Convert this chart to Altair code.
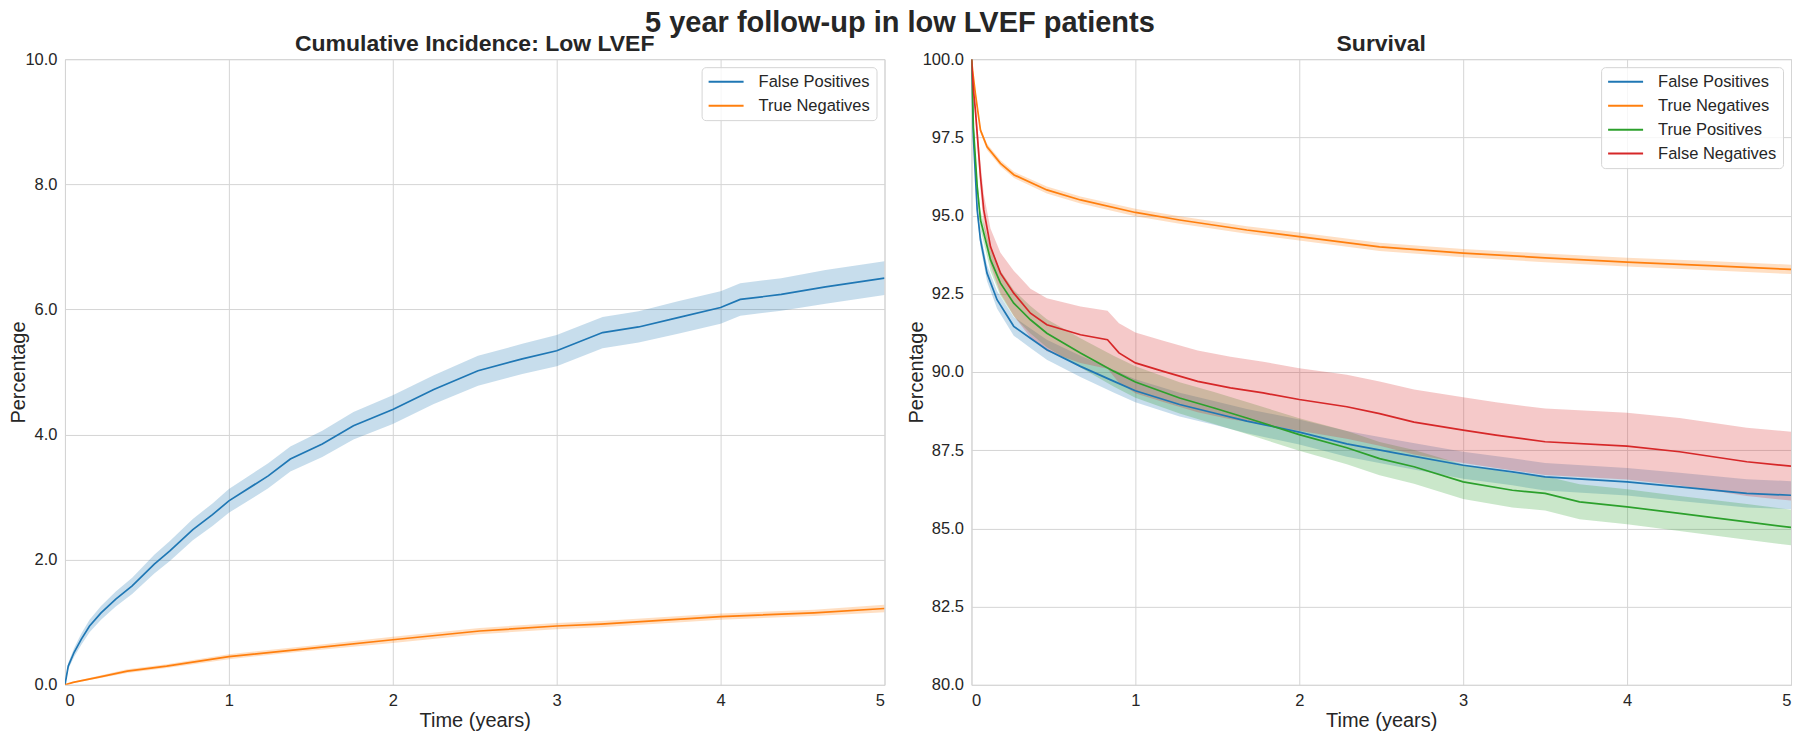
import altair as alt
import pandas as pd

FONT = "Liberation Sans"
TXT = "#262626"
GRID = "#d5d5d5"

# ---------------- Cumulative incidence: Low LVEF ----------------
ci_fp_t = [0, 0.02, 0.056, 0.10, 0.15, 0.22, 0.31, 0.41, 0.545, 0.64, 0.78, 0.9, 1.0, 1.24, 1.375,
           1.57, 1.76, 2.0, 2.25, 2.52, 2.79, 3.0, 3.28, 3.5, 3.74, 4.0, 4.12, 4.37, 4.64, 5.0]
ci_fp_v = [0, 0.30, 0.52, 0.73, 0.94, 1.15, 1.37, 1.58, 1.93, 2.14, 2.48, 2.72, 2.94, 3.34, 3.61,
           3.85, 4.14, 4.40, 4.72, 5.02, 5.21, 5.34, 5.63, 5.72, 5.87, 6.03, 6.16, 6.24, 6.36, 6.50]
ci_fp_lo = [0, 0.25, 0.45, 0.64, 0.84, 1.04, 1.25, 1.45, 1.78, 1.98, 2.31, 2.54, 2.75, 3.14, 3.41,
            3.64, 3.92, 4.17, 4.49, 4.78, 4.97, 5.09, 5.38, 5.47, 5.61, 5.77, 5.90, 5.98, 6.09, 6.23]
ci_fp_hi = [0, 0.35, 0.59, 0.82, 1.04, 1.26, 1.49, 1.71, 2.08, 2.30, 2.65, 2.90, 3.13, 3.54, 3.81,
            4.06, 4.36, 4.63, 4.95, 5.26, 5.45, 5.59, 5.88, 5.97, 6.13, 6.29, 6.42, 6.50, 6.63, 6.77]

ci_tn_t = [0, 0.05, 0.2, 0.38, 0.62, 1.0, 1.48, 2.0, 2.53, 3.0, 3.27, 4.0, 4.57, 5.0]
ci_tn_v = [0, 0.04, 0.12, 0.22, 0.30, 0.45, 0.58, 0.72, 0.86, 0.94, 0.97, 1.09, 1.15, 1.22]
ci_tn_lo = [0, 0.03, 0.10, 0.19, 0.27, 0.41, 0.54, 0.67, 0.81, 0.89, 0.92, 1.04, 1.10, 1.16]
ci_tn_hi = [0, 0.05, 0.14, 0.25, 0.33, 0.49, 0.62, 0.77, 0.91, 0.99, 1.02, 1.14, 1.20, 1.28]

# ---------------- Survival ----------------
sv_fp_t = [0, 0.012, 0.035, 0.055, 0.095, 0.156, 0.258, 0.36, 0.46, 0.665, 0.87, 1.0, 1.27, 1.48,
           1.68, 2.0, 2.29, 2.6, 3.0, 3.3, 3.5, 4.0, 4.32, 4.73, 5.0]
sv_fp_v = [100, 97.5, 95.18, 94.22, 93.16, 92.31, 91.46, 91.08, 90.71, 90.18, 89.70, 89.40, 88.96,
           88.69, 88.43, 88.08, 87.70, 87.40, 87.02, 86.81, 86.65, 86.49, 86.33, 86.12, 86.06]
sv_fp_lo = [100, 97.38, 94.98, 93.99, 92.90, 92.03, 91.16, 90.77, 90.39, 89.84, 89.34, 89.03, 88.58,
            88.31, 88.04, 87.68, 87.29, 86.98, 86.59, 86.38, 86.21, 86.05, 85.88, 85.67, 85.61]
sv_fp_hi = [100, 97.62, 95.38, 94.45, 93.42, 92.59, 91.76, 91.39, 91.03, 90.52, 90.06, 89.77, 89.34,
            89.07, 88.82, 88.48, 88.11, 87.82, 87.45, 87.24, 87.09, 86.93, 86.78, 86.57, 86.51]

sv_tn_t = [0, 0.01, 0.024, 0.055, 0.095, 0.177, 0.26, 0.46, 0.665, 1.0, 1.27, 1.68, 2.0, 2.49, 3.0,
           3.5, 4.0, 4.5, 5.0]
sv_tn_v = [100, 99.5, 98.9, 97.73, 97.2, 96.67, 96.3, 95.82, 95.5, 95.1, 94.86, 94.54, 94.33, 94.0,
           93.8, 93.65, 93.51, 93.4, 93.28]
sv_tn_lo = [100, 99.47, 98.85, 97.65, 97.10, 96.57, 96.20, 95.71, 95.39, 94.98, 94.74, 94.42, 94.20,
            93.87, 93.67, 93.51, 93.37, 93.25, 93.13]
sv_tn_hi = [100, 99.53, 98.95, 97.81, 97.30, 96.77, 96.40, 95.93, 95.61, 95.22, 94.98, 94.66, 94.46,
            94.13, 93.93, 93.79, 93.65, 93.55, 93.43]

sv_tp_t = [0, 0.012, 0.035, 0.055, 0.116, 0.177, 0.258, 0.36, 0.46, 0.665, 0.87, 1.0, 1.27, 1.48,
           1.68, 2.0, 2.29, 2.49, 2.7, 3.0, 3.3, 3.5, 3.71, 4.0, 4.32, 4.73, 5.0]
sv_tp_v = [100, 97.8, 95.93, 94.86, 93.59, 92.84, 92.20, 91.67, 91.24, 90.61, 90.02, 89.68, 89.17,
           88.85, 88.53, 88.00, 87.58, 87.23, 86.97, 86.49, 86.22, 86.12, 85.85, 85.69, 85.48, 85.21, 85.03]
sv_tp_lo = [100, 97.65, 95.68, 94.56, 93.23, 92.44, 91.78, 91.23, 90.79, 90.14, 89.53, 89.18, 88.67,
            88.34, 88.02, 87.48, 87.05, 86.70, 86.43, 85.94, 85.67, 85.57, 85.29, 85.13, 84.92, 84.64, 84.46]
sv_tp_hi = [100, 97.95, 96.18, 95.16, 93.95, 93.24, 92.62, 92.11, 91.69, 91.08, 90.51, 90.18, 89.67,
            89.36, 89.04, 88.52, 88.11, 87.76, 87.51, 87.04, 86.77, 86.67, 86.41, 86.25, 86.04, 85.78, 85.60]

sv_fn_t = [0, 0.012, 0.024, 0.055, 0.075, 0.116, 0.177, 0.258, 0.36, 0.46, 0.665, 0.83, 0.9, 1.0,
           1.17, 1.38, 1.58, 1.78, 2.0, 2.29, 2.49, 2.7, 3.0, 3.2, 3.5, 4.0, 4.32, 4.73, 5.0]
sv_fn_v = [100, 99.0, 98.37, 96.25, 95.18, 94.01, 93.16, 92.52, 91.88, 91.51, 91.19, 91.03, 90.61,
           90.29, 90.02, 89.70, 89.49, 89.33, 89.12, 88.89, 88.67, 88.40, 88.14, 87.98, 87.77, 87.63,
           87.45, 87.13, 86.99]
sv_fn_lo = [100, 98.85, 98.12, 95.80, 94.68, 93.43, 92.51, 91.80, 91.10, 90.66, 90.29, 90.10, 89.66,
            89.32, 89.04, 88.71, 88.49, 88.33, 88.12, 87.87, 87.64, 87.36, 87.09, 86.93, 86.71, 86.56,
            86.37, 86.04, 85.89]
sv_fn_hi = [100, 99.15, 98.62, 96.70, 95.68, 94.59, 93.81, 93.24, 92.66, 92.36, 92.09, 91.96, 91.56,
            91.26, 91.00, 90.69, 90.49, 90.33, 90.12, 89.91, 89.70, 89.44, 89.19, 89.03, 88.83, 88.70,
            88.53, 88.22, 88.09]

groups = ["False Positives", "True Negatives", "True Positives", "False Negatives"]
colors = ["#1f77b4", "#ff7f0e", "#2ca02c", "#d62728"]

left_ticks = [0, 2, 4, 6, 8, 10]
right_ticks = [80, 82.5, 85, 87.5, 90, 92.5, 95, 97.5, 100]
x_ticks = [0, 1, 2, 3, 4, 5]

BAND_SUFFIX = " (95% CI)"


def frame(name, t, v, lo, hi):
    return pd.DataFrame({"t": t, "v": v, "lo": lo, "hi": hi, "group": name,
                         "band": name + BAND_SUFFIX})


left_df = pd.concat([
    frame(groups[0], ci_fp_t, ci_fp_v, ci_fp_lo, ci_fp_hi),
    frame(groups[1], ci_tn_t, ci_tn_v, ci_tn_lo, ci_tn_hi),
])
right_df = pd.concat([
    frame(groups[0], sv_fp_t, sv_fp_v, sv_fp_lo, sv_fp_hi),
    frame(groups[1], sv_tn_t, sv_tn_v, sv_tn_lo, sv_tn_hi),
    frame(groups[2], sv_tp_t, sv_tp_v, sv_tp_lo, sv_tp_hi),
    frame(groups[3], sv_fn_t, sv_fn_v, sv_fn_lo, sv_fn_hi),
])


def panel(df, ngroups, ydomain, yticks, title):
    dom = groups[:ngroups]
    rng = colors[:ngroups]
    xenc = alt.X("t:Q", scale=alt.Scale(domain=[0, 5], nice=False, zero=False),
                 axis=alt.Axis(values=x_ticks, format="d", title="Time (years)"))
    yaxis = alt.Axis(values=yticks, format=".1f", title="Percentage")
    yscale = alt.Scale(domain=ydomain, nice=False, zero=False)
    band = alt.Chart(df).mark_area(opacity=0.25, clip=True, interpolate="linear").encode(
        x=xenc,
        y=alt.Y("lo:Q", scale=yscale, axis=yaxis),
        y2="hi:Q",
        fill=alt.Fill("band:N", scale=alt.Scale(domain=[g + BAND_SUFFIX for g in dom], range=rng),
                      legend=None),
        detail="band:N",
    )
    line = alt.Chart(df).mark_line(strokeWidth=1.7, clip=True, interpolate="linear").encode(
        x=xenc,
        y=alt.Y("v:Q", scale=yscale, axis=yaxis),
        stroke=alt.Stroke(
            "group:N",
            scale=alt.Scale(domain=dom, range=rng),
            legend=alt.Legend(
                title=None, orient="top-right", offset=8, padding=6,
                strokeColor=GRID, fillColor="rgba(255,255,255,0.8)", cornerRadius=4,
                symbolType="stroke", symbolSize=1225, symbolStrokeWidth=2,
                clipHeight=17, rowPadding=7, labelOffset=14,
                labelFontSize=16.5, labelFont=FONT, labelColor=TXT, labelLimit=300,
            ),
        ),
        detail="group:N",
    )
    return alt.layer(band, line).properties(
        width=820, height=626,
        title=alt.TitleParams(title, fontSize=23, font=FONT, fontWeight="bold", color=TXT,
                              anchor="middle", offset=-5),
    )


left = panel(left_df, 2, [0, 10], left_ticks, "Cumulative Incidence: Low LVEF")
right = panel(right_df, 4, [80, 100], right_ticks, "Survival")

chart = alt.hconcat(left, right, spacing=20).resolve_scale(
    stroke="independent", fill="independent", x="independent", y="independent"
).resolve_legend(
    stroke="independent", fill="independent"
).properties(
    title=alt.TitleParams("5 year follow-up in low LVEF patients", fontSize=29, font=FONT,
                          fontWeight="bold", color=TXT, anchor="middle", offset=-5),
    padding={"left": 0, "top": 0, "right": 0, "bottom": 0},
).configure_view(
    stroke=GRID, strokeWidth=1
).configure_axis(
    grid=True, gridColor=GRID, gridWidth=1, ticks=False, domain=False,
    labelFont=FONT, labelFontSize=16.5, labelColor=TXT, labelPadding=8,
    titleFont=FONT, titleFontSize=20, titleColor=TXT, titleFontWeight="normal",
).configure_axisY(
    titlePadding=-4
).configure_axisX(
    titlePadding=1
)

chart.save("out.html", embed_options={"renderer": "svg", "actions": False})
